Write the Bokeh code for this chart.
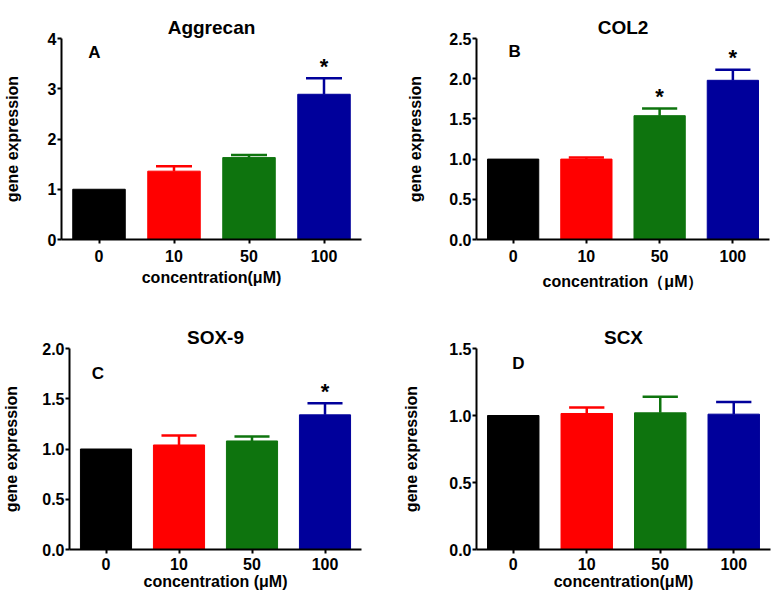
from bokeh.plotting import figure
from bokeh.layouts import column, row
from bokeh.models import (ColumnDataSource, FixedTicker, NumeralTickFormatter, Label,
                          FactorRange, Title)
from bokeh.transform import dodge
from bokeh.core.properties import value
from bokeh.embed import file_html
from bokeh.resources import INLINE

categories = ["0", "10", "50", "100"]
bar_colors = ["#000000", "#FF0000", "#0E740E", "#00009B"]

aggrecan = [1.0, 1.36, 1.63, 2.89]
aggrecan_err = [0.0, 0.10, 0.05, 0.32]
aggrecan_sig = [False, False, False, True]

col2 = [1.0, 1.0, 1.54, 1.98]
col2_err = [0.0, 0.02, 0.09, 0.13]
col2_sig = [False, False, True, True]

sox9 = [1.0, 1.04, 1.08, 1.34]
sox9_err = [0.0, 0.095, 0.045, 0.115]
sox9_sig = [False, False, False, True]

scx = [1.0, 1.015, 1.02, 1.01]
scx_err = [0.0, 0.045, 0.12, 0.09]
scx_sig = [False, False, False, False]

FONT = "Liberation Sans"


def panel(title, vals, errs, sig, ymax, ticks, fmt, xlabel, letter, letter_xy,
          width, height, borders, label_standoff, tick_standoff, xlabel_standoff):
    left, right, top, bottom = borders
    p = figure(x_range=FactorRange(*categories, range_padding=0), y_range=(0, ymax),
               width=width, height=height, output_backend="svg", toolbar_location=None,
               min_border_left=left, min_border_right=right, min_border_top=top,
               min_border_bottom=bottom)
    p.add_layout(Title(text=title, align="center", text_font=FONT, text_font_style="bold",
                       text_font_size="19px", text_color="black", standoff=2), "above")
    # small empty spacer between the frame and the title
    p.add_layout(Title(text=" ", text_font_size="6px", standoff=0), "above")
    p.outline_line_color = None
    p.xgrid.grid_line_color = None
    p.ygrid.grid_line_color = None
    p.background_fill_color = "white"
    p.border_fill_color = "white"

    src = ColumnDataSource(dict(x=categories, top=vals, color=bar_colors))
    p.vbar(x="x", top="top", width=0.7, bottom=0, fill_color="color", line_color="color",
           source=src)

    ex, ev, et, ec = [], [], [], []
    for c, v, e, col in zip(categories, vals, errs, bar_colors):
        if e > 0:
            ex.append(c); ev.append(v); et.append(v + e); ec.append(col)
    esrc = ColumnDataSource(dict(x=ex, val=ev, top=et, color=ec))
    p.segment(x0="x", x1="x", y0="val", y1="top", line_color="color", line_width=2.5,
              source=esrc)
    p.segment(x0=dodge("x", -0.24, range=p.x_range), x1=dodge("x", 0.24, range=p.x_range),
              y0="top", y1="top", line_color="color", line_width=2.5, source=esrc)

    sx, sy = [], []
    for c, v, e, s in zip(categories, vals, errs, sig):
        if s:
            sx.append(c); sy.append(v + e)
    ssrc = ColumnDataSource(dict(x=sx, y=sy, t=["*"] * len(sx)))
    p.text(x="x", y="y", text="t", source=ssrc, text_font=value(FONT),
           text_font_style="bold", text_font_size="22px", text_align="center",
           text_baseline="middle", y_offset=-12, text_color="black")

    p.add_layout(Label(x=letter_xy[0], y=letter_xy[1], text=letter, text_font=FONT,
                       text_font_style="bold", text_font_size="17px", text_align="center",
                       text_baseline="middle", text_color="black"))

    for ax in (p.xaxis[0], p.yaxis[0]):
        ax.axis_line_width = 2
        ax.axis_line_color = "black"
        ax.major_tick_line_width = 2
        ax.major_tick_line_color = "black"
        ax.major_tick_in = 0
        ax.major_tick_out = 4
        ax.minor_tick_line_color = None
        ax.major_label_text_font = FONT
        ax.major_label_text_font_style = "bold"
        ax.major_label_text_font_size = "16px"
        ax.major_label_text_color = "black"
        ax.axis_label_text_font = FONT
        ax.axis_label_text_font_style = "bold"
        ax.axis_label_text_font_size = "16px"
        ax.axis_label_text_color = "black"

    p.yaxis.ticker = FixedTicker(ticks=ticks)
    p.yaxis.formatter = NumeralTickFormatter(format=fmt)
    p.yaxis.axis_label = "gene expression"
    p.yaxis.major_label_standoff = 1
    p.yaxis.axis_label_standoff = label_standoff
    p.xaxis.axis_label = xlabel
    p.xaxis.major_label_standoff = tick_standoff
    p.xaxis.axis_label_standoff = xlabel_standoff
    return p


pA = panel("Aggrecan", aggrecan, aggrecan_err, aggrecan_sig, 4, [0, 1, 2, 3, 4], "0",
           "concentration(μM)", "A", (0.44, 3.72), 389, 297, (59, 28, 38, 58), 24, 6, 4)
pB = panel("COL2", col2, col2_err, col2_sig, 2.5, [0, 0.5, 1.0, 1.5, 2.0, 2.5], "0.0",
           "concentration（μM）", "B", (0.52, 2.34), 382, 297, (87, 2, 38, 58), 22, 6, 8)
pC = panel("SOX-9", sox9, sox9_err, sox9_sig, 2.0, [0, 0.5, 1.0, 1.5, 2.0], "0.0",
           "concentration (μM)", "C", (0.39, 1.75), 389, 300, (67, 28, 51, 48), 19, 4, 0)
pD = panel("SCX", scx, scx_err, scx_sig, 1.5, [0, 0.5, 1.0, 1.5], "0.0",
           "concentration(μM)", "D", (0.57, 1.39), 382, 300, (87, 1, 51, 48), 26, 4, 0)

layout = column(row(pA, pB), row(pC, pD))
open("out.html", "w").write(file_html(layout, INLINE))
